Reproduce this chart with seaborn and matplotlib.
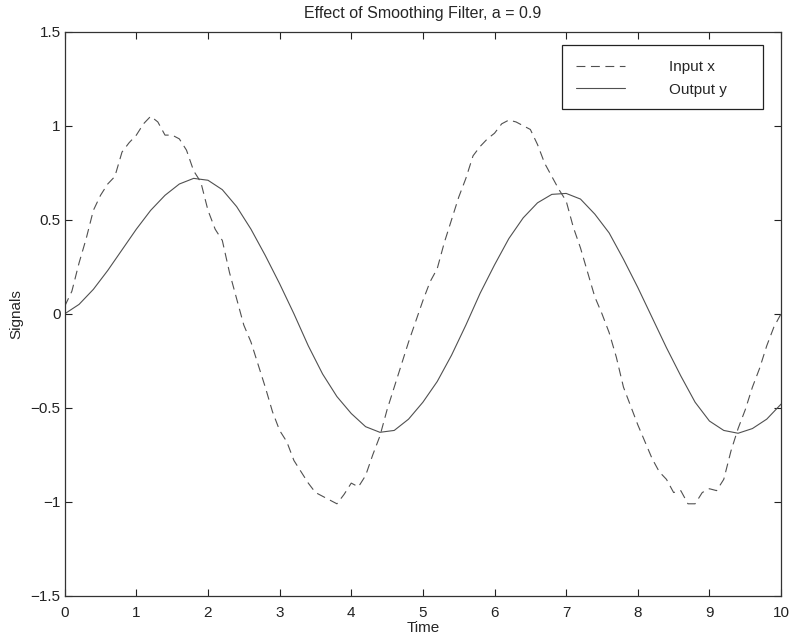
import numpy as np
import pandas as pd
import matplotlib
matplotlib.use('Agg')
import matplotlib.pyplot as plt
from matplotlib.patches import Rectangle
import seaborn as sns

# input x (noisy), every 0.1
t_in = [round(0.1 * i, 1) for i in range(101)]
x_in = [0.04, 0.12, 0.27, 0.40, 0.55, 0.63, 0.69, 0.73, 0.86, 0.91,
        0.95, 1.01, 1.05, 1.02, 0.95, 0.95, 0.93, 0.87, 0.76, 0.70,
        0.55, 0.45, 0.39, 0.22, 0.08, -0.06, -0.15, -0.27, -0.39, -0.52,
        -0.62, -0.68, -0.78, -0.84, -0.90, -0.95, -0.97, -0.99, -1.01, -0.96,
        -0.90, -0.92, -0.86, -0.75, -0.65, -0.51, -0.39, -0.27, -0.15, -0.04,
        0.07, 0.17, 0.24, 0.38, 0.50, 0.62, 0.72, 0.84, 0.89, 0.93,
        0.96, 1.01, 1.03, 1.02, 1.00, 0.98, 0.90, 0.80, 0.73, 0.66,
        0.60, 0.46, 0.35, 0.22, 0.09, 0.00, -0.10, -0.23, -0.39, -0.49,
        -0.59, -0.68, -0.77, -0.84, -0.88, -0.95, -0.94, -1.01, -1.01, -0.95,
        -0.93, -0.94, -0.88, -0.73, -0.61, -0.51, -0.39, -0.29, -0.17, -0.07,
        0.00]

# smoothed output y, read every 0.2
t_out = [round(0.2 * i, 1) for i in range(51)]
y_out = [0.00, 0.05, 0.13, 0.23, 0.34, 0.45, 0.55, 0.63, 0.69, 0.72,
         0.71, 0.66, 0.57, 0.45, 0.31, 0.16, 0.00, -0.17, -0.32, -0.44,
         -0.53, -0.60, -0.63, -0.62, -0.56, -0.47, -0.36, -0.22, -0.06, 0.11,
         0.26, 0.40, 0.51, 0.59, 0.635, 0.64, 0.61, 0.53, 0.43, 0.29,
         0.14, -0.02, -0.18, -0.33, -0.47, -0.57, -0.62, -0.635, -0.61, -0.56,
         -0.48]

df_in = pd.DataFrame({'Time': t_in, 'Signals': x_in})
df_out = pd.DataFrame({'Time': t_out, 'Signals': y_out})

sns.set_style('ticks')
plt.rcParams['font.family'] = ['Liberation Sans', 'DejaVu Sans']
plt.rcParams['font.size'] = 11
plt.rcParams['axes.unicode_minus'] = True

fig = plt.figure(figsize=(7.92, 6.42), dpi=100)
ax = fig.add_axes([0.0817, 0.0717, 0.9045, 0.879])

line_col = '#505050'
sns.lineplot(data=df_in, x='Time', y='Signals', ax=ax, color=line_col,
             linewidth=0.8, linestyle=(0, (8, 5)), label='Input x')
sns.lineplot(data=df_out, x='Time', y='Signals', ax=ax, color=line_col,
             linewidth=0.8, label='Output y')

ax.set_xlim(0, 10)
ax.set_ylim(-1.5, 1.5)
ax.set_xticks(np.arange(0, 11, 1))
ax.set_yticks([-1.5, -1, -0.5, 0, 0.5, 1, 1.5])
ax.set_yticklabels(['\u22121.5', '\u22121', '\u22120.5', '0', '0.5', '1', '1.5'])
ax.tick_params(direction='in', top=True, right=True, length=5, width=0.8,
               labelsize=11, colors='#222222', pad=3)
ax.tick_params(axis='x', pad=7)
for s in ax.spines.values():
    s.set_visible(True)
    s.set_linewidth(0.9)
    s.set_color('#333333')

ax.set_title('Effect of Smoothing Filter, a = 0.9', fontsize=11.5, pad=10)
ax.set_xlabel('Time', fontsize=11, labelpad=1)
ax.set_ylabel('Signals', fontsize=11, labelpad=5)

# legend: MATLAB-style box, wider than its contents
leg = ax.legend(loc='upper left', bbox_to_anchor=(0.714, 0.949),
                handlelength=3.2, handletextpad=2.9, fontsize=11,
                frameon=False, borderpad=0, labelspacing=0.55,
                borderaxespad=0)
ax.add_patch(Rectangle((0.694, 0.8635), 0.281, 0.1135, transform=ax.transAxes,
                       facecolor='white', edgecolor='#222222', linewidth=0.9,
                       zorder=4))
leg.set_zorder(5)

plt.savefig('out.png', dpi=100)
